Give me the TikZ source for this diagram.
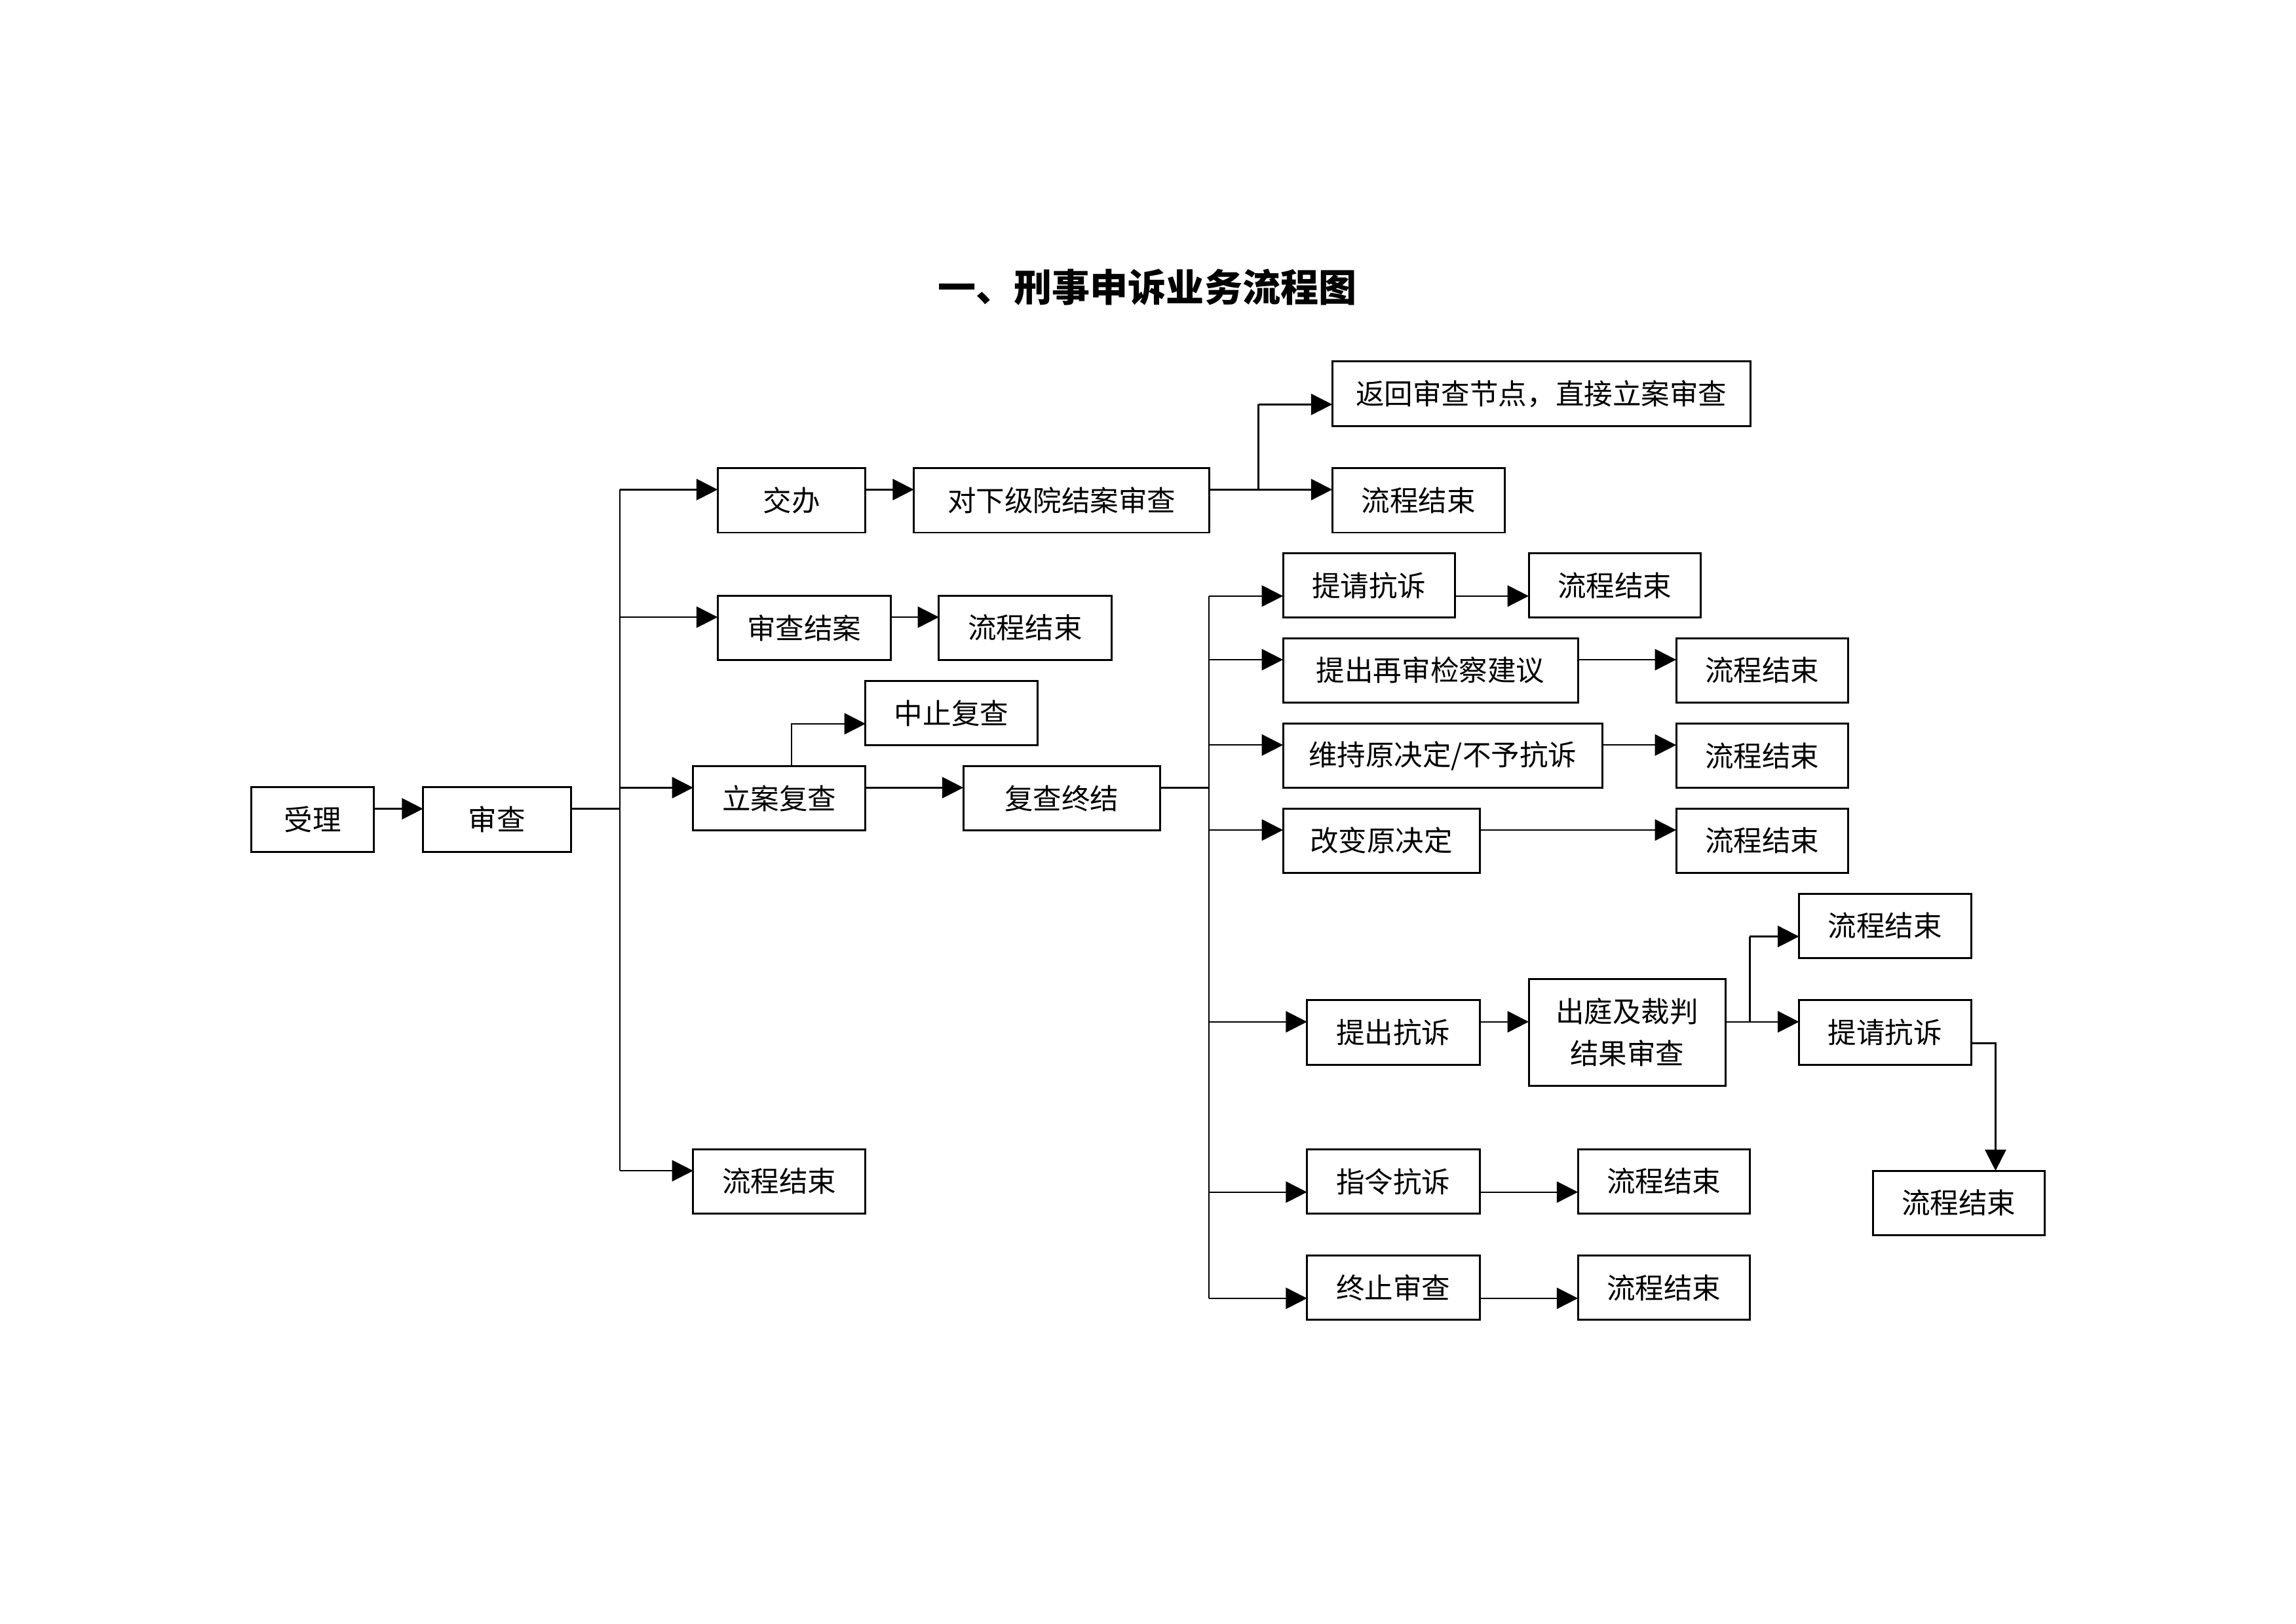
\documentclass[tikz,border=0pt]{standalone}
\usepackage{fontspec}
\setmainfont{Noto Sans CJK SC}
\usetikzlibrary{arrows.meta,calc}
\newcommand\bx[6]{\node[box, minimum width={(#4-#2)*0.018941cm}, minimum height={(#5-#3)*0.018941cm}] (#1) at ({(#2+#4)/2},{(#3+#5)/2}) {#6};}
\newcommand\dd{0.138cm}
\begin{document}
\begin{tikzpicture}[x=0.018941cm,y=-0.018941cm,
  box/.style={draw, line width=0.72pt, inner sep=0pt, outer sep=0pt, font=\fontsize{10.5}{15.4}\selectfont, align=center},
  ln/.style={line width=0.58pt},
  arr/.style={ln, -{Triangle[length=7.8pt,width=7.8pt]}}]
\useasboundingbox (0,0) rectangle (1568,1109.3);

\node[font=\fontsize{14}{17}\selectfont\bfseries] (title) at (783.5,196) {一、刑事申诉业务流程图};

\bx{shouli}{171.6}{537.6}{255.5}{581.9}{受理}
\bx{shencha}{288.9}{537.6}{389.9}{581.9}{审查}
\bx{jiaoban}{490.1}{319.6}{591.1}{363.8}{交办}
\bx{xiaji}{624.1}{319.6}{826}{363.8}{对下级院结案审查}
\bx{fanhui}{909.8}{246.9}{1195.4}{291.0}{返回审查节点，直接立案审查}
\bx{endA}{909.8}{319.6}{1027.6}{363.8}{流程结束}
\bx{scja}{490.1}{406.9}{608.3}{450.8}{审查结案}
\bx{endB}{641.2}{406.9}{759}{450.8}{流程结束}
\bx{zhongzhi}{591.1}{465.1}{708.4}{509.1}{中止复查}
\bx{lian}{473.4}{523.3}{591.1}{567.3}{立案复查}
\bx{zhongjie}{657.9}{523.3}{792.3}{567.3}{复查终结}
\bx{endC}{473.4}{785}{591.1}{829}{流程结束}
\bx{tqks}{876.2}{377.9}{993.7}{421.8}{提请抗诉}
\bx{endD}{1044}{377.9}{1161.5}{421.8}{流程结束}
\bx{zsjy}{876.2}{435.9}{1077.6}{479.9}{提出再审检察建议}
\bx{endE}{1144.7}{435.9}{1262.1}{479.9}{流程结束}
\bx{weichi}{876.2}{494.2}{1094.3}{538.2}{维持原决定/不予抗诉}
\bx{endF}{1144.7}{494.2}{1262.1}{538.2}{流程结束}
\bx{gaibian}{876.2}{552.3}{1010.5}{596.2}{改变原决定}
\bx{endG}{1144.7}{552.3}{1262.1}{596.2}{流程结束}
\bx{tcks}{892.6}{683.3}{1010.5}{727.2}{提出抗诉}
\bx{chuting}{1044}{668.7}{1178.3}{741.8}{出庭及裁判\\结果审查}
\bx{endH}{1228.6}{610.5}{1346.1}{654.3}{流程结束}
\bx{tqksB}{1228.6}{683.3}{1346.1}{727.2}{提请抗诉}
\bx{endI}{1279}{799.7}{1396.4}{843.6}{流程结束}
\bx{zlks}{892.6}{785}{1010.5}{829}{指令抗诉}
\bx{endJ}{1077.6}{785}{1195}{829}{流程结束}
\bx{zzsc}{892.6}{857.5}{1010.5}{901.6}{终止审查}
\bx{endK}{1077.6}{857.5}{1195}{901.6}{流程结束}

% junction coordinates
\coordinate (J1) at (423.3,0);
\coordinate (J2) at (859.4,0);
\coordinate (J3) at (540.6,0);
\coordinate (J4) at (825.5,0);
\coordinate (J5) at (1195,0);
\coordinate (J6) at (1362.8,0);

% entry points
\coordinate (inShencha) at ([yshift=\dd]shencha.west);
\coordinate (inJiaoban) at ([yshift=\dd]jiaoban.west);
\coordinate (inScja) at ([yshift=\dd]scja.west);
\coordinate (inLian) at ([yshift=\dd]lian.west);
\coordinate (inEndC) at ([yshift=\dd]endC.west);
\coordinate (inXiaji) at ([yshift=\dd]xiaji.west);
\coordinate (inFanhui) at ([yshift=-\dd]fanhui.west);
\coordinate (inEndA) at ([yshift=\dd]endA.west);
\coordinate (inEndB) at ([yshift=\dd]endB.west);
\coordinate (inZhongzhi) at ([yshift=-\dd]zhongzhi.west);
\coordinate (inZhongjie) at ([yshift=\dd]zhongjie.west);
\coordinate (inTqks) at ([yshift=-\dd]tqks.west);
\coordinate (inZsjy) at ([yshift=\dd]zsjy.west);
\coordinate (inWeichi) at ([yshift=\dd]weichi.west);
\coordinate (inGaibian) at ([yshift=\dd]gaibian.west);
\coordinate (inTcks) at ([yshift=\dd]tcks.west);
\coordinate (inZlks) at ([yshift=-\dd]zlks.west);
\coordinate (inZzsc) at ([yshift=-\dd]zzsc.west);
\coordinate (inEndD) at ([yshift=-\dd]endD.west);
\coordinate (inEndE) at ([yshift=\dd]endE.west);
\coordinate (inEndF) at ([yshift=\dd]endF.west);
\coordinate (inEndG) at ([yshift=\dd]endG.west);
\coordinate (inChuting) at ([yshift=\dd]chuting.west);
\coordinate (inEndH) at ([yshift=-\dd]endH.west);
\coordinate (inTqksB) at ([yshift=\dd]tqksB.west);
\coordinate (inEndJ) at ([yshift=-\dd]endJ.west);
\coordinate (inEndK) at ([yshift=-\dd]endK.west);
\coordinate (outTqksB) at ([yshift=-\dd]tqksB.east);

% 受理 -> 审查
\draw[arr] (shouli.east |- inShencha) -- (inShencha);
% 审查 -> trunk 1
\draw[ln] (shencha.east |- inShencha) -- (J1 |- inShencha);
\draw[ln] (J1 |- inJiaoban) -- (J1 |- inEndC);
\draw[arr] (J1 |- inJiaoban) -- (inJiaoban);
\draw[arr] (J1 |- inScja) -- (inScja);
\draw[arr] (J1 |- inLian) -- (inLian);
\draw[arr] (J1 |- inEndC) -- (inEndC);
% 交办 row
\draw[arr] (jiaoban.east |- inXiaji) -- (inXiaji);
\draw[ln] (xiaji.east |- inEndA) -- (J2 |- inEndA) -- (J2 |- inFanhui);
\draw[arr] (J2 |- inFanhui) -- (inFanhui);
\draw[arr] (J2 |- inEndA) -- (inEndA);
% 审查结案 row
\draw[arr] (scja.east |- inEndB) -- (inEndB);
% 立案复查
\draw[arr] (J3 |- lian.north) |- (inZhongzhi);
\draw[arr] (lian.east |- inZhongjie) -- (inZhongjie);
% 复查终结 -> trunk 2
\draw[ln] (zhongjie.east |- inZhongjie) -- (J4 |- inZhongjie);
\draw[ln] (J4 |- inTqks) -- (J4 |- inZzsc);
\draw[arr] (J4 |- inTqks) -- (inTqks);
\draw[arr] (J4 |- inZsjy) -- (inZsjy);
\draw[arr] (J4 |- inWeichi) -- (inWeichi);
\draw[arr] (J4 |- inGaibian) -- (inGaibian);
\draw[arr] (J4 |- inTcks) -- (inTcks);
\draw[arr] (J4 |- inZlks) -- (inZlks);
\draw[arr] (J4 |- inZzsc) -- (inZzsc);
% rows right of trunk 2
\draw[arr] (tqks.east |- inEndD) -- (inEndD);
\draw[arr] (zsjy.east |- inEndE) -- (inEndE);
\draw[arr] (weichi.east |- inEndF) -- (inEndF);
\draw[arr] (gaibian.east |- inEndG) -- (inEndG);
\draw[arr] (tcks.east |- inChuting) -- (inChuting);
\draw[ln] (chuting.east |- inTqksB) -- (J5 |- inTqksB) -- (J5 |- inEndH);
\draw[arr] (J5 |- inEndH) -- (inEndH);
\draw[arr] (J5 |- inTqksB) -- (inTqksB);
\draw[arr] (outTqksB) -| (J6 |- endI.north);
\draw[arr] (zlks.east |- inEndJ) -- (inEndJ);
\draw[arr] (zzsc.east |- inEndK) -- (inEndK);
\end{tikzpicture}
\end{document}
